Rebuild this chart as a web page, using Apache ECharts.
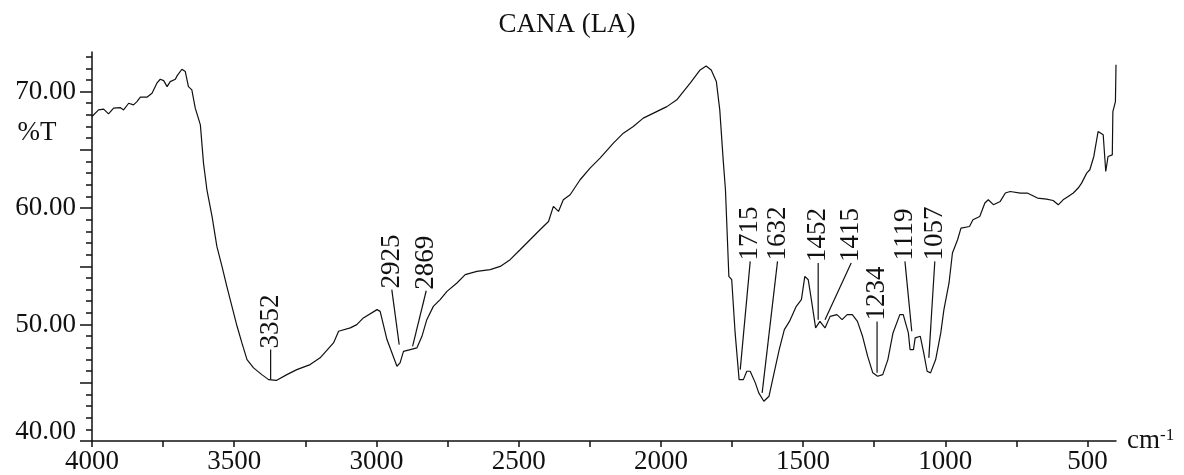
<!DOCTYPE html>
<html>
<head>
<meta charset="utf-8">
<script src="https://cdn.jsdelivr.net/npm/echarts/dist/echarts.min.js"></script>
<style>
  html, body { margin: 0; padding: 0; background: #fff; }
  #chart { width: 1184px; height: 475px; }
</style>
</head>
<body>
<div id="chart"></div>
<script>
// ---- Data ----
const wavenumbers = [
  4000, 3977, 3959, 3942, 3924, 3901, 3889, 3871, 3854, 3842, 3830, 3807, 3789, 3772, 3760, 3748,
  3736, 3725, 3707, 3701, 3684, 3672, 3661, 3649, 3637, 3619, 3608, 3596, 3578, 3561, 3543, 3526,
  3508, 3490, 3473, 3455, 3432, 3403, 3379, 3352, 3315, 3280, 3233, 3198, 3151, 3133, 3092, 3069,
  3046, 2998, 2987, 2963, 2928, 2917, 2905, 2881, 2858, 2840, 2823, 2800, 2776, 2752, 2717, 2688,
  2647, 2600, 2565, 2530, 2495, 2460, 2425, 2395, 2378, 2360, 2343, 2319, 2284, 2249, 2214, 2167,
  2132, 2097, 2062, 2015, 1979, 1944, 1921, 1897, 1862, 1841, 1823, 1805, 1793, 1781, 1773, 1761,
  1751, 1739, 1725, 1710, 1698, 1686, 1668, 1656, 1638, 1620, 1602, 1584, 1566, 1548, 1524, 1506,
  1494, 1482, 1471, 1456, 1441, 1423, 1405, 1381, 1363, 1345, 1327, 1309, 1291, 1273, 1255, 1238,
  1220, 1202, 1184, 1160, 1148, 1130, 1124, 1112, 1106, 1088, 1076, 1064, 1052, 1034, 1016, 1005,
  987, 975, 957, 945, 915, 903, 879, 861, 849, 831, 807, 789, 772, 736, 712, 676,
  644, 621, 603, 586, 568, 550, 533, 521, 503, 492, 478, 463, 445, 436, 428, 413,
  411, 402, 400
];
const transmittance = [
  67.86, 68.43, 68.49, 68.09, 68.58, 68.63, 68.43, 69.00, 68.86, 69.14, 69.52, 69.52, 69.86, 70.72, 71.06, 70.94,
  70.43, 70.86, 71.06, 71.35, 71.92, 71.72, 70.43, 70.15, 68.58, 67.14, 63.86, 61.57, 59.28, 56.71, 54.99, 53.28,
  51.56, 49.85, 48.42, 46.99, 46.28, 45.70, 45.27, 45.20, 45.70, 46.13, 46.56, 47.14, 48.42, 49.42, 49.71, 49.99,
  50.57, 51.28, 51.13, 48.71, 46.42, 46.71, 47.70, 47.85, 47.99, 48.99, 50.42, 51.56, 52.14, 52.85, 53.57, 54.28,
  54.56, 54.71, 54.99, 55.57, 56.42, 57.28, 58.14, 58.85, 60.14, 59.71, 60.71, 61.14, 62.43, 63.43, 64.29, 65.57,
  66.43, 67.00, 67.72, 68.28, 68.71, 69.29, 70.00, 70.72, 71.86, 72.20, 71.86, 70.86, 68.43, 64.14, 61.57, 54.13,
  53.85, 49.28, 45.27, 45.27, 45.99, 45.99, 44.99, 44.13, 43.41, 43.84, 45.85, 47.85, 49.56, 50.27, 51.56, 52.14,
  54.13, 53.85, 52.14, 49.71, 50.27, 49.71, 50.70, 50.85, 50.42, 50.85, 50.85, 50.27, 48.99, 47.27, 45.85, 45.56,
  45.70, 46.99, 49.28, 50.85, 50.85, 49.28, 47.85, 47.85, 48.85, 48.99, 47.56, 45.99, 45.85, 46.99, 49.28, 51.28,
  53.57, 56.14, 57.28, 58.28, 58.42, 59.00, 59.28, 60.43, 60.71, 60.29, 60.57, 61.29, 61.42, 61.29, 61.29, 60.86,
  60.77, 60.65, 60.28, 60.71, 61.00, 61.29, 61.72, 62.14, 63.00, 63.29, 64.43, 66.57, 66.29, 63.14, 64.43, 64.57,
  68.28, 69.14, 72.30
];

// Peak annotations: label text, label anchor (wavenumber, %T) and leader tip (wavenumber, %T)
const peakLabels = ['3352', '2925', '2869', '1715', '1632', '1452', '1415', '1234', '1119', '1057'];
const labelWn    = [3372, 2946, 2825, 1686, 1590, 1447, 1331, 1240, 1142, 1037];
const labelT     = [47.85, 53.0, 52.9, 55.42, 55.42, 55.28, 55.28, 50.27, 55.42, 55.42];
const tipWn      = [3372, 2920, 2873, 1721, 1644, 1447, 1423, 1240, 1118, 1058];
const tipT       = [45.27, 48.28, 48.13, 46.13, 44.13, 50.42, 50.42, 45.85, 49.42, 47.14];

// Axis ticks / labels
const xTickValues  = [500, 750, 1000, 1250, 1500, 1750, 2000, 2250, 2500, 2750, 3000, 3250, 3500, 3750, 4000];
const xLabelValues = [500, 1000, 1500, 2000, 2500, 3000, 3500, 4000];
const yMajorTicks  = [40, 45, 50, 55, 60, 65, 70];
const yLabelValues = [40, 50, 60, 70];
const yMinorTicks  = [40,41,42,43,44,45,46,47,48,49,50,51,52,53,54,55,56,57,58,59,60,61,62,63,64,65,66,67,68,69,70,71,72,73];

const titleText = 'CANA (LA)';
const yName = '%T';

// ---- Chart ----
const FONT = '"Liberation Serif", "Times New Roman", serif';
const FS = 27;
const chart = echarts.init(document.getElementById('chart'), null, { renderer: 'canvas' });

const spectrum = wavenumbers.map((w, i) => [w, transmittance[i]]);
const annData = peakLabels.map((t, i) => [labelWn[i], labelT[i], tipWn[i], tipT[i]]);

const option = {
  backgroundColor: '#ffffff',
  animation: false,
  grid: { left: 92, right: 68, top: 52, bottom: 34, containLabel: false },
  graphic: [
    { type: 'text', x: 567, y: 25,
      style: { text: titleText, font: FS + 'px ' + FONT, fill: '#111', align: 'center', verticalAlign: 'middle' } },
    { type: 'text', x: 37, y: 133,
      style: { text: yName, font: FS + 'px ' + FONT, fill: '#111', align: 'center', verticalAlign: 'middle' } }
  ],
  xAxis: {
    type: 'value',
    min: 400, max: 4000,
    inverse: true,
    position: 'bottom',
    name: '{a|cm}{b|-1}',
    nameLocation: 'start',
    nameGap: 11,
    nameTextStyle: {
      rich: {
        a: { fontFamily: FONT, fontSize: FS, color: '#111' },
        b: { fontFamily: FONT, fontSize: 17, color: '#111', verticalAlign: 'top', padding: [0, 0, 10, 0] }
      }
    },
    axisLine: { show: true, onZero: false, lineStyle: { color: '#111', width: 1.5 } },
    axisTick: { show: true, inside: false, length: 6, customValues: xTickValues, lineStyle: { color: '#111', width: 1.5 } },
    axisLabel: {
      show: true, customValues: xLabelValues, margin: 7,
      fontFamily: FONT, fontSize: FS, color: '#111',
      formatter: v => String(v)
    },
    splitLine: { show: false }
  },
  yAxis: [
    {
      type: 'value',
      min: 40, max: 73.4,
      position: 'left',
      axisLine: { show: true, onZero: false, lineStyle: { color: '#111', width: 1.5 } },
      axisTick: { show: true, inside: false, length: 12, customValues: yMajorTicks, lineStyle: { color: '#111', width: 1.5 } },
      axisLabel: {
        show: true, customValues: yLabelValues, margin: 16,
        fontFamily: FONT, fontSize: FS, color: '#111',
        formatter: v => (v === 40 ? '{lo|' + v.toFixed(2) + '}' : v.toFixed(2)),
        rich: { lo: { fontFamily: FONT, fontSize: FS, color: '#111', padding: [0, 0, 18, 0] } }
      },
      splitLine: { show: false }
    },
    {
      type: 'value',
      min: 40, max: 73.4,
      position: 'left',
      offset: 0,
      axisLine: { show: false },
      axisTick: { show: true, inside: false, length: 6, customValues: yMinorTicks, lineStyle: { color: '#111', width: 1.5 } },
      axisLabel: { show: false },
      splitLine: { show: false }
    }
  ],
  series: [
    {
      type: 'line',
      xAxisIndex: 0, yAxisIndex: 0,
      data: spectrum,
      showSymbol: false,
      symbol: 'none',
      smooth: false,
      sampling: null,
      clip: true,
      lineStyle: { color: '#111', width: 1.2 },
      silent: true
    },
    {
      type: 'custom',
      xAxisIndex: 0, yAxisIndex: 0,
      data: annData,
      clip: false,
      silent: true,
      encode: { x: [0, 2], y: [1, 3] },
      renderItem: function (params, api) {
        const p0 = api.coord([api.value(0), api.value(1)]);
        const p1 = api.coord([api.value(2), api.value(3)]);
        return {
          type: 'group',
          children: [
            { type: 'line', shape: { x1: p0[0], y1: p0[1], x2: p1[0], y2: p1[1] },
              style: { stroke: '#111', lineWidth: 1.2 } },
            { type: 'text', x: p0[0], y: p0[1] - 1, rotation: Math.PI / 2,
              style: { text: peakLabels[params.dataIndex], font: FS + 'px ' + FONT, fill: '#111',
                       align: 'left', verticalAlign: 'middle' } }
          ]
        };
      }
    }
  ]
};
chart.setOption(option);
</script>
</body>
</html>
